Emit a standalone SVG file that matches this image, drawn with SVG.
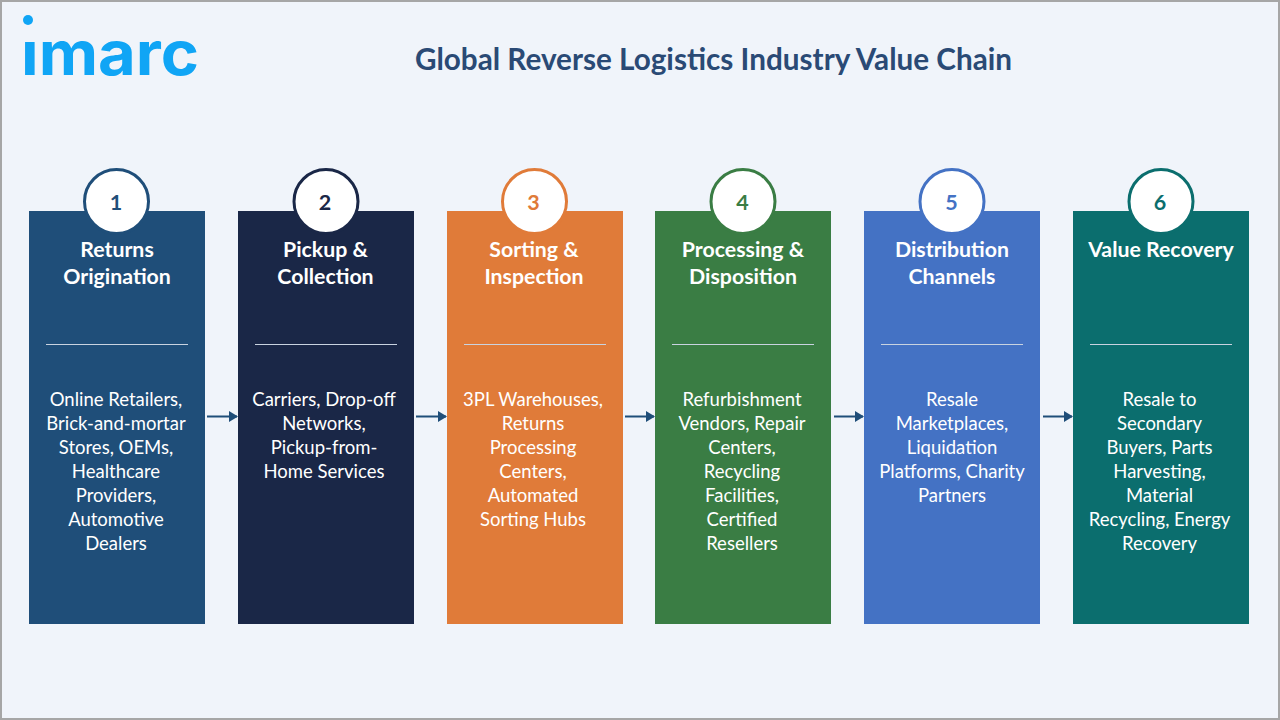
<svg xmlns="http://www.w3.org/2000/svg" width="1280" height="720" viewBox="0 0 1280 720">
<style>
text{font-family:Lato,"Open Sans",sans-serif;text-anchor:middle}
.t{font-size:21.3px;font-weight:700;fill:#fff}
.b{font-size:18.5px;fill:#fff}
.n{font-size:21.5px;font-weight:700}
.d{stroke:#c9d3e0;stroke-width:1}
.c{stroke:#1f4e79;stroke-width:2;fill:none;marker-end:url(#a)}
.ring{fill:#fff;stroke-width:3}
</style>
<defs>
<marker id="a" markerUnits="userSpaceOnUse" markerWidth="9" markerHeight="11" refX="8" refY="5.500" orient="auto"><path d="M0 0L9 5.500L0 11Z" fill="#1f4e79"/></marker>
<clipPath id="lc"><rect x="0" y="40" width="240" height="50"/></clipPath>
</defs>
<rect width="1280" height="720" fill="#f0f4fa"/>
<path d="M1 720V1H1279V720" fill="none" stroke="#a6a6a6" stroke-width="2"/>
<path d="M0 719H1280" stroke="#a6a6a6" stroke-width="2"/>
<g id="logo">
<circle cx="28" cy="20" r="5" fill="#10a5f5"/>
<text x="110" y="75" clip-path="url(#lc)" style="font-family:Inter,sans-serif;font-weight:700;font-size:61px;fill:#10a5f5" textLength="178" lengthAdjust="spacingAndGlyphs">imarc</text>
</g>
<text x="713.500" y="70" style="font-size:29.700px;font-weight:700;fill:#2a4a75">Global Reverse Logistics Industry Value Chain</text>
<g id="connectors">
<path class="c" d="M207 416.500H237"/>
<path class="c" d="M416 416.500H446"/>
<path class="c" d="M625 416.500H654"/>
<path class="c" d="M834 416.500H863"/>
<path class="c" d="M1043 416.500H1072"/>
</g>
<g id="node1">
<rect x="29" y="211" width="176" height="413" fill="#1f4e79"/>
<circle class="ring" cx="116.500" cy="201.500" r="32" stroke="#1f4e79"/>
<text class="n" x="116" y="210" fill="#1f4e79">1</text>
<text class="t" x="117" y="257">Returns</text><text class="t" x="117" y="284">Origination</text>
<path class="d" d="M46 344.500H188"/>
<text class="b" x="116" y="406">Online Retailers,</text><text class="b" x="116" y="430">Brick-and-mortar</text><text class="b" x="116" y="454">Stores, OEMs,</text><text class="b" x="116" y="478">Healthcare</text><text class="b" x="116" y="502">Providers,</text><text class="b" x="116" y="526">Automotive</text><text class="b" x="116" y="550">Dealers</text>
</g>
<g id="node2">
<rect x="238" y="211" width="176" height="413" fill="#1a2747"/>
<circle class="ring" cx="326" cy="201.500" r="32" stroke="#1a2747"/>
<text class="n" x="325" y="210" fill="#1a2747">2</text>
<text class="t" x="325.500" y="257">Pickup &amp;</text><text class="t" x="325.500" y="284">Collection</text>
<path class="d" d="M255 344.500H397"/>
<text class="b" x="324" y="406">Carriers, Drop-off</text><text class="b" x="324" y="430">Networks,</text><text class="b" x="324" y="454">Pickup-from-</text><text class="b" x="324" y="478">Home Services</text>
</g>
<g id="node3">
<rect x="447" y="211" width="176" height="413" fill="#e07b39"/>
<circle class="ring" cx="534.500" cy="201.500" r="32" stroke="#e07b39"/>
<text class="n" x="533.500" y="210" fill="#e07b39">3</text>
<text class="t" x="534" y="257">Sorting &amp;</text><text class="t" x="534" y="284">Inspection</text>
<path class="d" d="M464 344.500H606"/>
<text class="b" x="533" y="406">3PL Warehouses,</text><text class="b" x="533" y="430">Returns</text><text class="b" x="533" y="454">Processing</text><text class="b" x="533" y="478">Centers,</text><text class="b" x="533" y="502">Automated</text><text class="b" x="533" y="526">Sorting Hubs</text>
</g>
<g id="node4">
<rect x="655" y="211" width="176" height="413" fill="#3a7d44"/>
<circle class="ring" cx="743" cy="201.500" r="32" stroke="#3a7d44"/>
<text class="n" x="742.500" y="210" fill="#3a7d44">4</text>
<text class="t" x="743" y="257">Processing &amp;</text><text class="t" x="743" y="284">Disposition</text>
<path class="d" d="M672 344.500H814"/>
<text class="b" x="742" y="406">Refurbishment</text><text class="b" x="742" y="430">Vendors, Repair</text><text class="b" x="742" y="454">Centers,</text><text class="b" x="742" y="478">Recycling</text><text class="b" x="742" y="502">Facilities,</text><text class="b" x="742" y="526">Certified</text><text class="b" x="742" y="550">Resellers</text>
</g>
<g id="node5">
<rect x="864" y="211" width="176" height="413" fill="#4472c4"/>
<circle class="ring" cx="952" cy="201.500" r="32" stroke="#4472c4"/>
<text class="n" x="951.500" y="210" fill="#4472c4">5</text>
<text class="t" x="952" y="257">Distribution</text><text class="t" x="952" y="284">Channels</text>
<path class="d" d="M881 344.500H1023"/>
<text class="b" x="952" y="406">Resale</text><text class="b" x="952" y="430">Marketplaces,</text><text class="b" x="952" y="454">Liquidation</text><text class="b" x="952" y="478">Platforms, Charity</text><text class="b" x="952" y="502">Partners</text>
</g>
<g id="node6">
<rect x="1073" y="211" width="176" height="413" fill="#0b6e6e"/>
<circle class="ring" cx="1161" cy="201.500" r="32" stroke="#0b6e6e"/>
<text class="n" x="1160" y="210" fill="#0b6e6e">6</text>
<text class="t" x="1161" y="257">Value Recovery</text>
<path class="d" d="M1090 344.500H1232"/>
<text class="b" x="1159.500" y="406">Resale to</text><text class="b" x="1159.500" y="430">Secondary</text><text class="b" x="1159.500" y="454">Buyers, Parts</text><text class="b" x="1159.500" y="478">Harvesting,</text><text class="b" x="1159.500" y="502">Material</text><text class="b" x="1159.500" y="526">Recycling, Energy</text><text class="b" x="1159.500" y="550">Recovery</text>
</g>
</svg>
